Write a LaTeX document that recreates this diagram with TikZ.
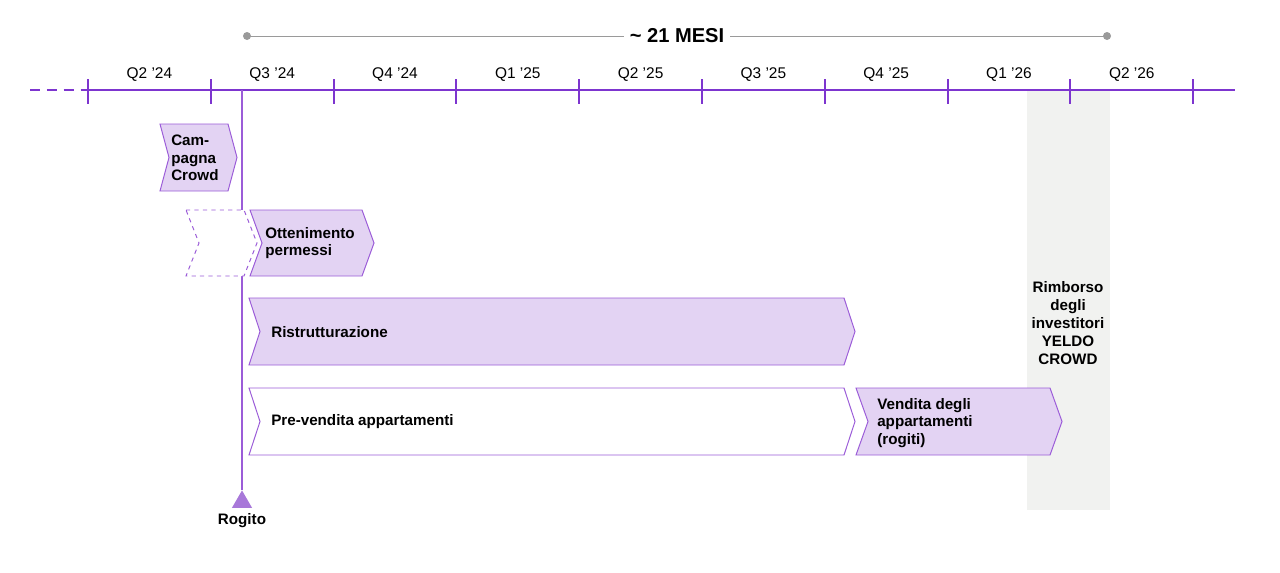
\documentclass[tikz,border=0pt]{standalone}
\usepackage{fontspec}
\setmainfont{Liberation Sans}
\usepackage{tikz}
\usetikzlibrary{shapes.geometric, positioning}
\definecolor{axispurple}{HTML}{7D35CF}
\definecolor{edgepurple}{HTML}{9B5CD8}
\definecolor{lavender}{HTML}{E3D3F3}
\definecolor{trifill}{HTML}{A878D9}
\definecolor{spangray}{HTML}{9A9A9A}
\definecolor{paygray}{HTML}{F1F2F0}

% chevron: [style] x-left, x-tip, y-top, y-bottom, depth
\newcommand{\chevron}[6][]{%
  \pgfmathsetmacro\chevmid{(#4+#5)/2}%
  \draw[#1] (#2,#4) -- (#3-#6,#4) -- (#3,\chevmid) -- (#3-#6,#5) -- (#2,#5) -- (#2+#6,\chevmid) -- cycle;}

\begin{document}
\begin{tikzpicture}[x=0.025cm, y=-0.025cm]
    \tikzstyle{phase} = [draw=edgepurple, line width=0.7pt, fill=lavender]
    \tikzstyle{openphase} = [draw=edgepurple, line width=0.7pt, fill=white]
    \tikzstyle{ghost} = [draw=edgepurple, line width=0.7pt, fill=white, dashed]
    \tikzstyle{label} = [anchor=west, align=left, inner sep=0pt, font=\fontsize{10.8}{12.4}\selectfont\bfseries]
    \tikzstyle{quarter} = [font=\fontsize{11}{13}\selectfont]
    \useasboundingbox (0,0) rectangle (1280,572);

    % payback column
    \fill[paygray] (1027,90) rectangle (1110,510);
    \node (rimborso) [align=center, inner sep=0pt, font=\fontsize{10.8}{12.8}\selectfont\bfseries] at (1068,323) {Rimborso\\degli\\investitori\\YELDO\\CROWD};

    % duration span
    \coordinate (spanL) at (247,36);
    \coordinate (spanR) at (1107,36);
    \node (mesi) [fill=white, inner sep=4pt, font=\fontsize{14.3}{16}\selectfont\bfseries] at (677,36) {\textasciitilde\ 21 MESI};
    \draw [spangray, line width=0.7pt] (spanL) -- (mesi.west);
    \draw [spangray, line width=0.7pt] (mesi.east) -- (spanR);
    \fill [spangray] (spanL) circle (4);
    \fill [spangray] (spanR) circle (4);

    % timeline axis
    \coordinate (axisL) at (30,90);
    \coordinate (axisA) at (88,90);
    \coordinate (axisR) at (1235,90);
    \draw [axispurple, line width=1.4pt, dash pattern=on 7pt off 5pt] (axisL) -- (axisA);
    \draw [axispurple, line width=1.4pt] (axisA) -- (axisR);
    \foreach \i in {0,...,9}
        \draw [axispurple, line width=1.4pt] (88+\i*122.8,79) -- (88+\i*122.8,104);
    \foreach \q [count=\i from 0] in {Q2 ’24, Q3 ’24, Q4 ’24, Q1 ’25, Q2 ’25, Q3 ’25, Q4 ’25, Q1 ’26, Q2 ’26}
        \node [quarter] at (149.4+\i*122.8,75) {\q};

    % rogito marker
    \coordinate (rogtop) at (242,90);
    \node (tri) [regular polygon, regular polygon sides=3, fill=trifill, minimum size=0.58cm, inner sep=0pt] at (242,502) {};
    \draw [edgepurple, line width=0.9pt] (rogtop) -- (tri.corner 1);
    \node (rogito) [font=\fontsize{10.8}{12}\selectfont\bfseries] at (242,521) {Rogito};

    % phases
    \chevron[phase]{160}{237}{124}{191}{9}
    \node (crowd) [label] at (171,158) {Cam-\\pagna\\Crowd};

    \chevron[ghost]{186}{257}{210}{276}{13}
    \chevron[phase]{250}{374}{210}{276}{12}
    \node (permessi) [label] at (265,243) {Ottenimento\\permessi};

    \chevron[phase]{249}{855}{298}{365}{11}
    \node (ristrutt) [label] at (271,332) {Ristrutturazione};

    \chevron[openphase]{249}{855}{388}{455}{11}
    \node (prevendita) [label] at (271,422) {Pre-vendita appartamenti};

    \chevron[phase]{856}{1062}{388}{455}{12}
    \node (vendita) [label] at (877,423) {Vendita degli\\appartamenti\\(rogiti)};
\end{tikzpicture}
\end{document}
